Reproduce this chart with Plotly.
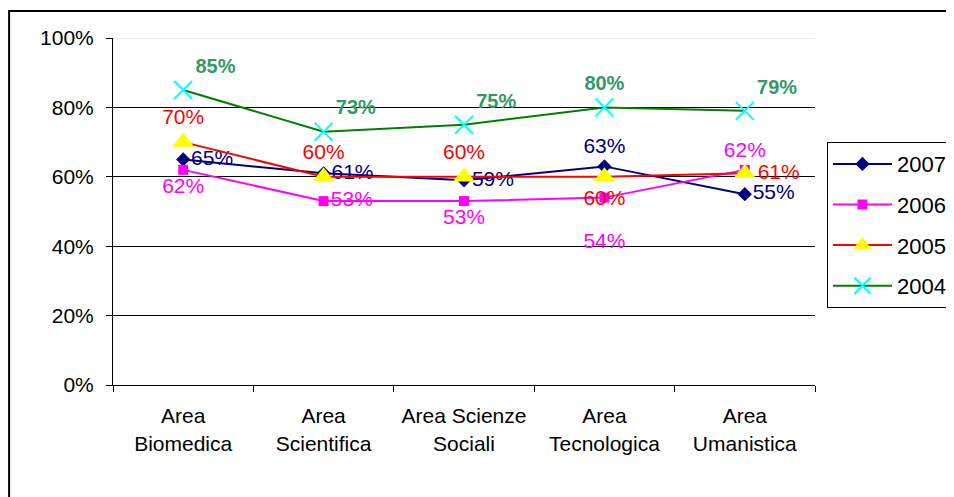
import plotly.graph_objects as go

# categorie e valori (quote)
aree = ["Area<br>Biomedica", "Area<br>Scientifica", "Area Scienze<br>Sociali",
        "Area<br>Tecnologica", "Area<br>Umanistica"]
anni = ["2007", "2006", "2005", "2004"]

v2007 = [0.65, 0.61, 0.59, 0.63, 0.55]
v2006 = [0.62, 0.53, 0.53, 0.54, 0.62]
v2005 = [0.70, 0.60, 0.60, 0.60, 0.61]
v2004 = [0.85, 0.73, 0.75, 0.80, 0.79]

# posizione delle etichette come nel grafico originale
pos2007 = ["middle right", "middle right", "middle right", "top center", "middle right"]
pos2006 = ["bottom center", "middle right", "bottom center", "bottom center", "top center"]
pos2005 = ["top center", "top center", "top center", "bottom center", "middle right"]
pos2004 = ["top right", "top right", "top right", "top center", "top right"]

FONT = "Arial, Liberation Sans, sans-serif"
FS = 21


def etichette(valori):
    return [f"{round(v*100)}%" for v in valori]


txt2006 = etichette(v2006)
txt2006[3] = "<br>" + txt2006[3]  # nell'originale questa etichetta sta più in basso

serie = [
    (anni[0], v2007, etichette(v2007), pos2007, "#000080",
     dict(symbol="diamond", size=11, color="#000080"),
     dict(color="#000080", size=FS, family=FONT)),
    (anni[1], v2006, txt2006, pos2006, "#FF00FF",
     dict(symbol="square", size=10, color="#FF00FF"),
     dict(color="#FF00FF", size=FS, family=FONT)),
    (anni[2], v2005, etichette(v2005), pos2005, "#FF0000",
     dict(symbol="triangle-up", size=19, color="#FFFF00"),
     dict(color="#FF0000", size=FS, family=FONT)),
    (anni[3], v2004, etichette(v2004), pos2004, "#008000",
     dict(symbol="x-thin-open", size=18, color="#00FFFF", line=dict(color="#00FFFF", width=2)),
     dict(color="#339966", size=20, family=FONT)),
]

fig = go.Figure()
for nome, valori, testi, pos, col, mk, tf in serie:
    fig.add_trace(go.Scatter(
        x=aree, y=valori, name=nome, legendgroup=nome,
        mode="lines+markers+text",
        line=dict(color=col, width=2),
        marker=mk,
        text=testi,
        textposition=pos,
        textfont=tf,
        cliponaxis=False,
    ))

# la serie 2004 ha etichette in grassetto
fig.data[3].texttemplate = "<b>%{text}</b>"

# la pagina ha 8px di margine del body: figura un po' più piccola
fig.update_layout(
    width=946, height=489,
    margin=dict(l=105, r=139, t=30, b=112, autoexpand=False),
    paper_bgcolor="white", plot_bgcolor="white",
    font=dict(family=FONT, size=FS, color="black"),
    showlegend=True,
    legend=dict(x=1.017, y=0.70, xanchor="left", yanchor="top",
                bordercolor="black", borderwidth=1, bgcolor="white",
                font=dict(size=22), itemwidth=59, tracegroupgap=9,
                traceorder="grouped"),
    xaxis=dict(range=[-0.5, 4.5], showline=True, linecolor="black", linewidth=1,
               ticks="outside", ticklen=6, tickcolor="black",
               tickson="boundaries", showgrid=False,
               ticklabelstandoff=12,
               tickfont=dict(size=FS), fixedrange=True),
    yaxis=dict(range=[0, 1], dtick=0.2, tickformat=".0%",
               showline=True, linecolor="black", linewidth=1,
               ticks="outside", ticklen=6, tickcolor="black",
               showgrid=True, gridcolor="black", gridwidth=1,
               ticklabelstandoff=8,
               zeroline=False, tickfont=dict(size=FS)),
    shapes=[
        # linea al 100% quasi invisibile
        dict(type="line", xref="paper", yref="y", x0=0, x1=1, y0=1, y1=1,
             line=dict(color="#eeeeee", width=2), layer="above"),
        # cornice esterna del grafico
        dict(type="rect", xref="paper", yref="paper",
             x0=-0.148, x1=1.3, y0=-0.4, y1=1.078,
             line=dict(color="black", width=2), layer="below"),
    ],
)

fig.write_html("out.html")
